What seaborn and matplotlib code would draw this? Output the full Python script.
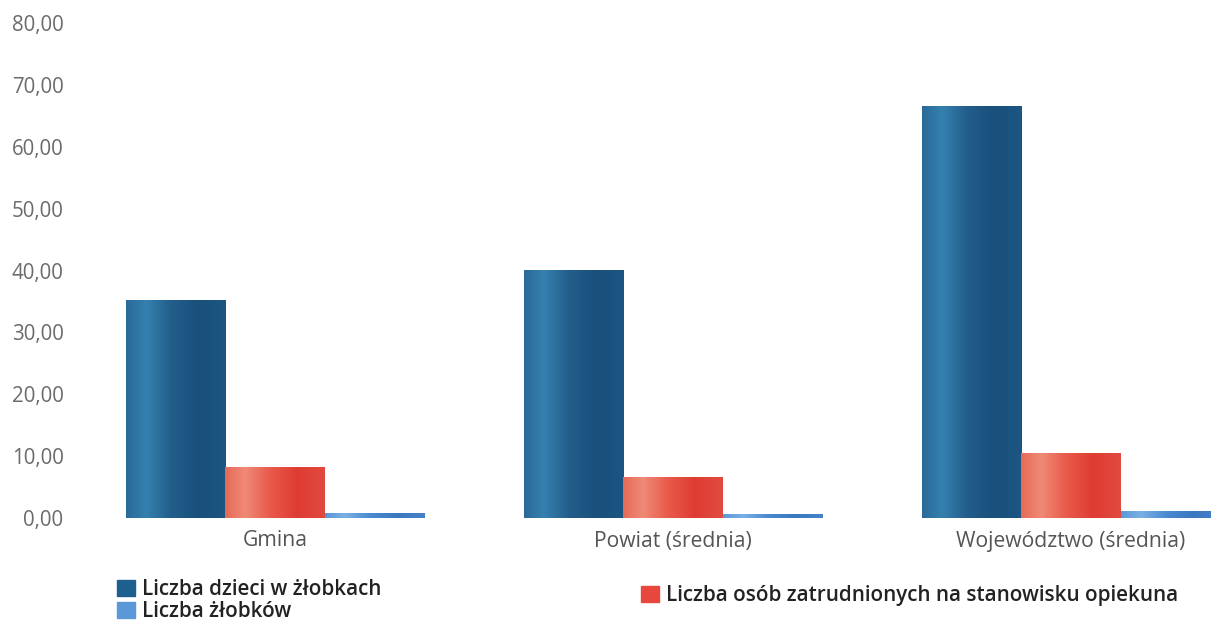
import numpy as np
import pandas as pd
import matplotlib.pyplot as plt
import seaborn as sns
from matplotlib.colors import LinearSegmentedColormap
from matplotlib.patches import Patch

# dane
kategorie = ['Gmina', 'Powiat (średnia)', 'Województwo (średnia)']
serie = ['Liczba dzieci w żłobkach',
         'Liczba osób zatrudnionych na stanowisku opiekuna',
         'Liczba żłobków']
dzieci = [35.2, 40.0, 66.5]
opiekunowie = [8.1, 6.5, 10.5]
zlobki = [0.8, 0.5, 1.0]
y_ticks = [0, 10, 20, 30, 40, 50, 60, 70, 80]

kolory = ['#1d5a86', '#e8473d', '#4a8ad0']
gradienty = [
    ['#2a6a98', '#3580b0', '#235e8b', '#19507c', '#1c5682'],
    ['#e66a58', '#ef8a76', '#e95a4b', '#de3c32', '#e24a3f'],
    ['#5a98d8', '#7ab0e4', '#4a8ad0', '#3a78c0', '#4682c8'],
]

df = pd.DataFrame({
    'Kategoria': kategorie * 3,
    'Seria': [serie[0]] * 3 + [serie[1]] * 3 + [serie[2]] * 3,
    'Wartosc': dzieci + opiekunowie + zlobki,
})

sns.set_style('white')
plt.rcParams['font.family'] = ['Open Sans', 'DejaVu Sans']

W, H = 1211, 625
fig = plt.figure(figsize=(W / 100, H / 100), dpi=100)
ax = fig.add_axes([76 / W, 1 - 518 / H, (W - 76) / W, (518 - 23) / H])

sns.barplot(data=df, x='Kategoria', y='Wartosc', hue='Seria', hue_order=serie,
            order=kategorie, palette=kolory, saturation=1, width=0.75, gap=0,
            legend=False, ax=ax)

# cieniowanie słupków (efekt walca)
grad = np.linspace(0, 1, 256).reshape(1, -1)
for cont, g in zip(ax.containers, gradienty):
    cmap = LinearSegmentedColormap.from_list('g', list(zip([0, 0.2, 0.45, 0.72, 1], g)))
    for bar in cont:
        x0, w, h = bar.get_x(), bar.get_width(), bar.get_height()
        ax.imshow(grad, extent=[x0, x0 + w, 0, h], aspect='auto', cmap=cmap,
                  zorder=bar.get_zorder() + 0.1, interpolation='bilinear')

ax.set_xlim(-0.5, 2.352)
ax.set_ylim(0, 80)
ax.set_yticks(y_ticks)
ax.set_yticklabels([f'{v:.2f}'.replace('.', ',') for v in y_ticks])
ax.set_xlabel('')
ax.set_ylabel('')
ax.tick_params(axis='y', length=0, pad=9, labelsize=14.8, labelcolor='#6b6b6b')
ax.tick_params(axis='x', length=0, pad=9, labelsize=15.2, labelcolor='#555555')
sns.despine(ax=ax, left=True, bottom=True)

prop = {'size': 14.9, 'weight': 'semibold'}
h1 = [Patch(color='#1d5f8e', label=serie[0]), Patch(color='#5a98d8', label=serie[2])]
leg1 = fig.legend(handles=h1, loc='upper left', bbox_to_anchor=(117 / W, 1 - 579 / H),
                  frameon=False, prop=prop, handlelength=0.85, handleheight=0.85,
                  handletextpad=0.35, labelspacing=0.05, borderpad=0, borderaxespad=0)
h2 = [Patch(color='#e8473d', label=serie[1])]
leg2 = fig.legend(handles=h2, loc='upper left', bbox_to_anchor=(641 / W, 1 - 585 / H),
                  frameon=False, prop=prop, handlelength=0.85, handleheight=0.85,
                  handletextpad=0.35, borderpad=0, borderaxespad=0)
for leg in (leg1, leg2):
    for t in leg.get_texts():
        t.set_color('#222222')

fig.savefig('out.png', dpi=100)
